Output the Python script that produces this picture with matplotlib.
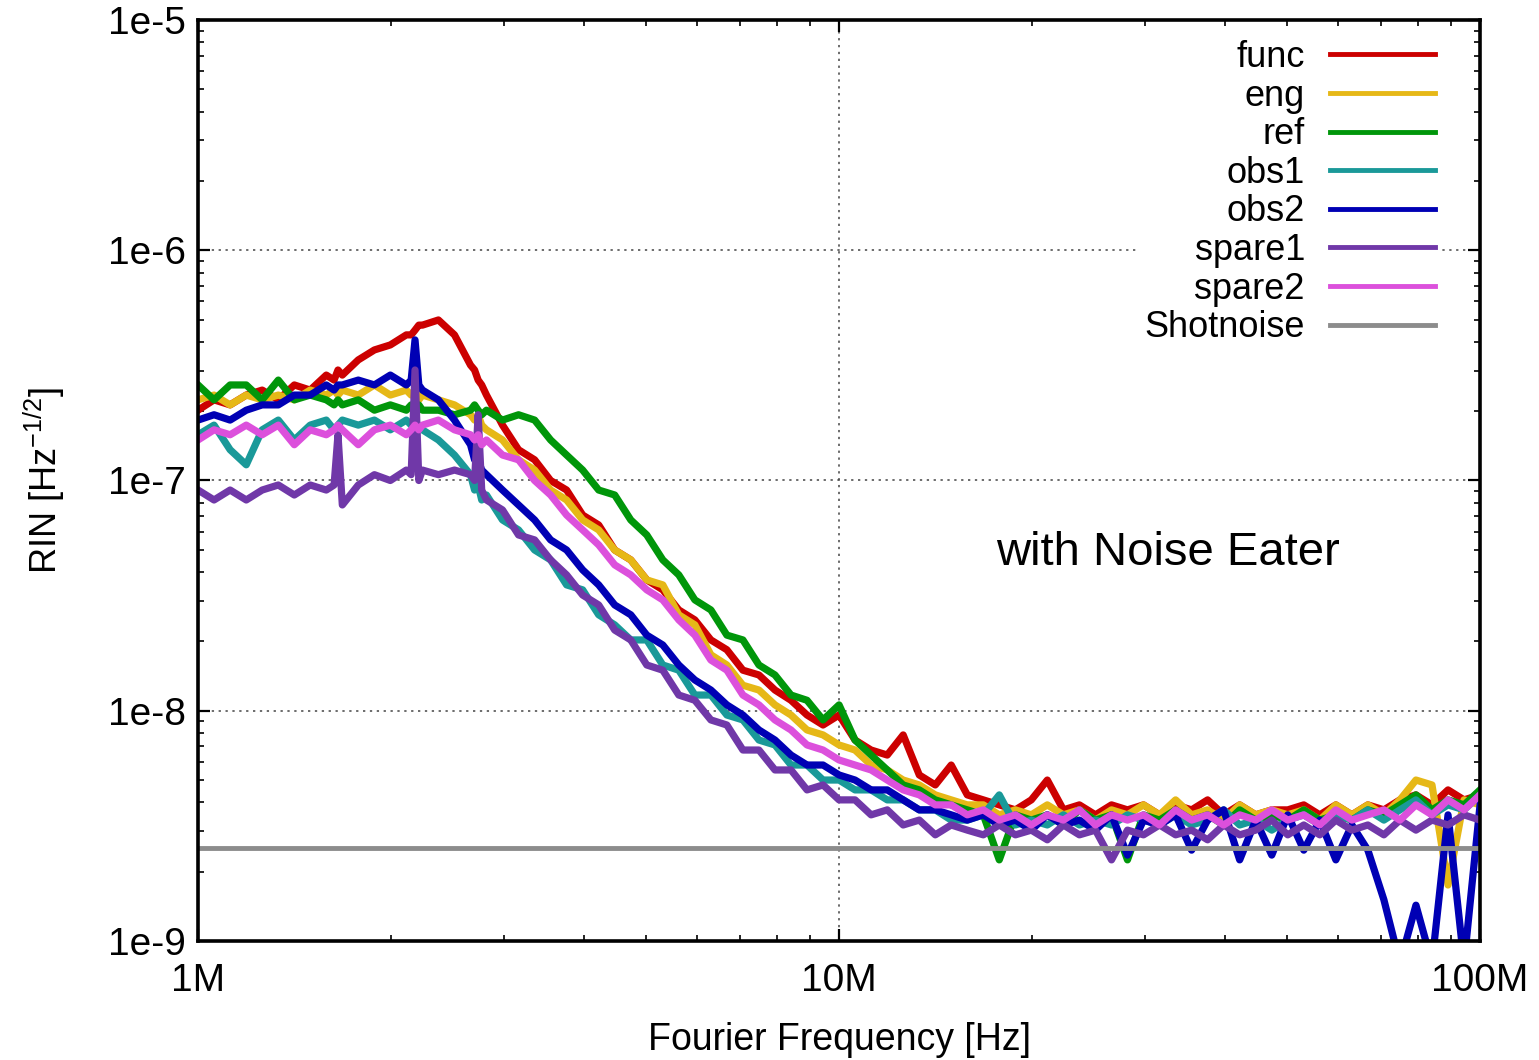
import numpy as np
import matplotlib
matplotlib.use("Agg")
import matplotlib.pyplot as plt
from matplotlib.ticker import NullFormatter

# Fourier frequency grid [MHz] (extra points around the spurs)
FREQ_MHZ = [
    1.000, 1.059, 1.122, 1.189, 1.259, 1.334, 1.413, 1.496, 1.585, 1.630,
    1.653, 1.679, 1.778, 1.884, 1.995, 2.113, 2.150, 2.180, 2.210, 2.239,
    2.371, 2.512, 2.661, 2.700, 2.735, 2.770, 2.818, 2.985, 3.162, 3.350,
    3.548, 3.758, 3.981, 4.217, 4.467, 4.732, 5.012, 5.309, 5.623, 5.957,
    6.310, 6.683, 7.079, 7.499, 7.943, 8.414, 8.913, 9.441, 10.00, 10.59,
    11.22, 11.89, 12.59, 13.34, 14.13, 14.96, 15.85, 16.79, 17.78, 18.84,
    19.95, 21.13, 22.39, 23.71, 25.12, 26.61, 28.18, 29.85, 31.62, 33.50,
    35.48, 37.58, 39.81, 42.17, 44.67, 47.32, 50.12, 53.09, 56.23, 59.57,
    63.10, 66.83, 70.79, 74.99, 79.43, 84.14, 89.13, 94.41, 100.0,
]

# RIN values in units of 1e-9 / sqrt(Hz)
FUNC = [
    202, 224, 213, 235, 247, 224, 260, 247, 287, 273,
    302, 287, 334, 369, 388, 429, 429, 450, 473, 473,
    498, 429, 317, 302, 273, 260, 235, 174, 136, 123,
    100, 90.9, 70.8, 64.1, 49.9, 45.2, 37.0, 33.5, 27.4, 24.8,
    20.3, 18.4, 15.0, 14.3, 12.3, 11.1, 9.58, 8.67, 9.58, 7.46,
    6.75, 6.42, 7.85, 5.26, 4.76, 5.81, 4.31, 4.10, 3.90, 3.71,
    4.10, 5.00, 3.71, 3.90, 3.53, 3.90, 3.71, 3.90, 3.53, 3.90,
    3.71, 4.10, 3.53, 3.90, 3.53, 3.71, 3.71, 3.90, 3.53, 3.90,
    3.53, 3.90, 3.71, 4.10, 4.31, 3.90, 4.53, 4.10, 4.31,
]
ENG = [
    224, 235, 213, 235, 224, 235, 224, 247, 235, 247,
    235, 247, 235, 260, 235, 247, 235, 247, 224, 235,
    224, 213, 193, 183, 193, 174, 166, 150, 123, 111,
    90.9, 82.3, 67.4, 61.0, 49.9, 45.2, 37.0, 35.2, 26.1, 23.6,
    17.5, 15.8, 12.9, 12.3, 10.6, 9.58, 8.25, 7.85, 7.10, 6.75,
    5.81, 5.53, 5.00, 4.76, 4.31, 4.10, 3.90, 3.90, 3.53, 3.71,
    3.53, 3.90, 3.53, 3.71, 3.35, 3.71, 3.53, 3.90, 3.53, 4.10,
    3.53, 3.71, 3.35, 3.90, 3.53, 3.71, 3.53, 3.71, 3.35, 3.90,
    3.53, 3.90, 3.53, 4.10, 5.00, 4.76, 1.75, 4.10, 3.90,
]
REF = [
    260, 224, 260, 260, 224, 273, 224, 235, 224, 213,
    224, 213, 224, 202, 213, 202, 213, 202, 213, 202,
    202, 193, 202, 213, 202, 193, 202, 183, 193, 183,
    150, 129, 111, 90.9, 86.5, 67.4, 58.0, 45.2, 38.9, 30.3,
    27.4, 21.3, 20.3, 15.8, 14.3, 11.7, 11.1, 9.12, 10.6, 7.46,
    6.42, 5.53, 4.76, 4.53, 4.10, 3.90, 3.71, 3.53, 2.25, 3.53,
    3.35, 3.53, 3.19, 3.71, 3.35, 3.53, 2.25, 3.53, 3.35, 3.71,
    3.35, 3.53, 3.19, 3.71, 3.35, 3.53, 3.35, 3.71, 3.35, 3.53,
    3.35, 3.71, 3.53, 3.90, 4.31, 3.71, 4.10, 3.90, 4.53,
]
OBS1 = [
    158, 174, 136, 117, 166, 183, 150, 174, 183, 166,
    174, 183, 174, 183, 166, 183, 174, 166, 174, 166,
    150, 129, 106, 90.9, 95.6, 82.3, 86.5, 67.4, 61.0, 49.9,
    45.2, 35.2, 33.5, 26.1, 23.6, 20.3, 20.3, 15.8, 15.0, 11.7,
    11.7, 9.58, 9.12, 7.46, 7.10, 5.81, 5.81, 5.00, 5.00, 4.53,
    4.53, 4.10, 4.10, 3.71, 3.71, 3.35, 3.35, 3.53, 4.31, 3.19,
    3.35, 3.19, 3.53, 3.19, 3.35, 3.19, 3.53, 3.35, 3.19, 3.53,
    3.19, 3.35, 3.71, 3.19, 3.35, 3.03, 3.35, 3.53, 3.19, 3.53,
    3.35, 3.71, 3.35, 3.71, 4.10, 3.53, 3.90, 3.71, 4.31,
]
OBS2 = [
    183, 193, 183, 202, 213, 213, 235, 235, 260, 247,
    260, 260, 273, 260, 287, 260, 273, 408, 260, 247,
    224, 183, 143, 123, 123, 111, 106, 90.9, 78.3, 67.4,
    55.2, 49.9, 40.9, 35.2, 28.8, 26.1, 21.3, 19.3, 15.8, 13.6,
    12.3, 10.6, 9.58, 8.25, 7.46, 6.42, 5.81, 5.81, 5.26, 5.00,
    4.53, 4.53, 4.10, 3.71, 3.71, 3.53, 3.35, 3.53, 3.19, 3.35,
    3.03, 3.53, 3.19, 3.35, 3.03, 3.53, 2.36, 3.35, 3.19, 3.53,
    2.48, 3.35, 3.71, 2.25, 3.35, 2.36, 3.53, 2.48, 3.35, 2.25,
    3.19, 2.48, 1.51, 0.8, 1.43, 0.8, 3.53, 0.8, 3.90,
]
SPARE1 = [
    90.9, 82.3, 90.9, 82.3, 90.9, 95.6, 86.5, 95.6, 90.9, 95.6,
    158, 78.3, 95.6, 106, 100, 111, 106, 302, 100, 111,
    106, 111, 106, 100, 193, 90.9, 82.3, 74.5, 58.0, 55.2,
    45.2, 38.9, 31.8, 28.8, 22.4, 20.3, 15.8, 15.0, 11.7, 11.1,
    9.12, 8.67, 6.75, 6.75, 5.53, 5.53, 4.53, 4.76, 4.10, 4.10,
    3.53, 3.71, 3.19, 3.35, 2.89, 3.19, 3.03, 2.89, 3.19, 2.89,
    3.03, 2.75, 3.19, 2.89, 3.03, 2.25, 3.03, 2.89, 3.19, 2.89,
    3.03, 2.75, 3.19, 2.89, 3.03, 3.35, 2.89, 3.19, 2.89, 3.35,
    3.03, 3.19, 2.89, 3.35, 3.03, 3.35, 3.19, 3.53, 3.35,
]
SPARE2 = [
    150, 166, 158, 174, 158, 174, 143, 166, 158, 166,
    174, 166, 143, 166, 174, 158, 166, 174, 166, 174,
    183, 166, 158, 150, 158, 143, 150, 129, 123, 100,
    86.5, 70.8, 61.0, 52.5, 43.0, 38.9, 33.5, 30.3, 24.8, 21.3,
    16.6, 15.0, 11.7, 10.6, 9.12, 8.25, 7.10, 6.75, 6.11, 5.81,
    5.53, 5.00, 4.53, 4.31, 3.90, 3.90, 3.53, 3.71, 3.35, 3.53,
    3.19, 3.53, 3.35, 3.71, 3.19, 3.53, 3.35, 3.53, 3.19, 3.71,
    3.35, 3.53, 3.19, 3.53, 3.35, 3.71, 3.35, 3.53, 3.19, 3.71,
    3.35, 3.53, 3.71, 3.35, 3.90, 3.53, 4.10, 3.71, 4.31,
]
SHOTNOISE = 2.54e-9

SERIES = [
    ("func", FUNC, "#cc0000"),
    ("eng", ENG, "#e6b817"),
    ("ref", REF, "#00960a"),
    ("obs1", OBS1, "#1a9999"),
    ("obs2", OBS2, "#0000b4"),
    ("spare1", SPARE1, "#7038a8"),
    ("spare2", SPARE2, "#dc50dc"),
]

X_TICKS = [1e6, 1e7, 1e8]
X_TICK_LABELS = ["1M", "10M", "100M"]
Y_TICKS = [1e-9, 1e-8, 1e-7, 1e-6, 1e-5]
Y_TICK_LABELS = ["1e-9", "1e-8", "1e-7", "1e-6", "1e-5"]


def main():
    plt.rcParams["font.family"] = ["Liberation Sans", "DejaVu Sans"]
    plt.rcParams["mathtext.fontset"] = "custom"
    plt.rcParams["mathtext.rm"] = "Liberation Sans"

    freq = np.array(FREQ_MHZ) * 1e6

    fig = plt.figure(figsize=(15.39, 10.60), dpi=100)
    ax = fig.add_axes([0.1287, 0.1123, 0.8330, 0.8688])

    # 측정 스펙트럼: 두꺼운 선으로 (원본 노이즈 밴드 느낌)
    for name, vals, color in SERIES:
        ax.plot(freq, np.array(vals) * 1e-9, color=color, lw=5.2, label=name)
    ax.axhline(SHOTNOISE, color="#8c8c8c", lw=3.5, label="Shotnoise")

    ax.set_xscale("log")
    ax.set_yscale("log")
    ax.set_xlim(1e6, 1e8)
    ax.set_ylim(1e-9, 1e-5)

    ax.set_xticks(X_TICKS, labels=X_TICK_LABELS)
    ax.set_yticks(Y_TICKS, labels=Y_TICK_LABELS)
    ax.xaxis.set_minor_formatter(NullFormatter())
    ax.yaxis.set_minor_formatter(NullFormatter())

    ax.tick_params(which="both", direction="in", top=True, right=True)
    ax.tick_params(which="major", length=8.5, width=1.6)
    ax.tick_params(which="minor", length=4.5, width=1.2)
    ax.tick_params(axis="x", which="major", labelsize=28, pad=16)
    ax.tick_params(axis="y", which="major", labelsize=28, pad=9)
    for sp in ax.spines.values():
        sp.set_linewidth(2.6)

    ax.grid(True, which="major", color="#444444", lw=1.1, linestyle=(0, (1.5, 3)))

    ax.set_xlabel("Fourier Frequency [Hz]", fontsize=27)
    ax.xaxis.set_label_coords(0.5, -0.088)
    ax.set_ylabel(r"RIN [Hz$^{\mathregular{-1/2}}$]", fontsize=26)
    ax.yaxis.set_label_coords(-0.102, 0.5)

    ax.text(0.6225, 0.4213, "with Noise Eater", transform=ax.transAxes,
            fontsize=34, ha="left", va="center")

    leg = ax.legend(loc="upper right", bbox_to_anchor=(0.9704, 0.9862),
                    borderaxespad=0, borderpad=0.2, fontsize=26,
                    markerfirst=False, handlelength=2.9, handletextpad=0.7,
                    labelspacing=0.1, frameon=True, fancybox=False)
    leg.get_frame().set_facecolor("white")
    leg.get_frame().set_edgecolor("none")
    leg.get_frame().set_alpha(1.0)
    for line in leg.get_lines():
        line.set_linewidth(3.5)

    fig.savefig("out.png", dpi=100)


if __name__ == "__main__":
    main()
